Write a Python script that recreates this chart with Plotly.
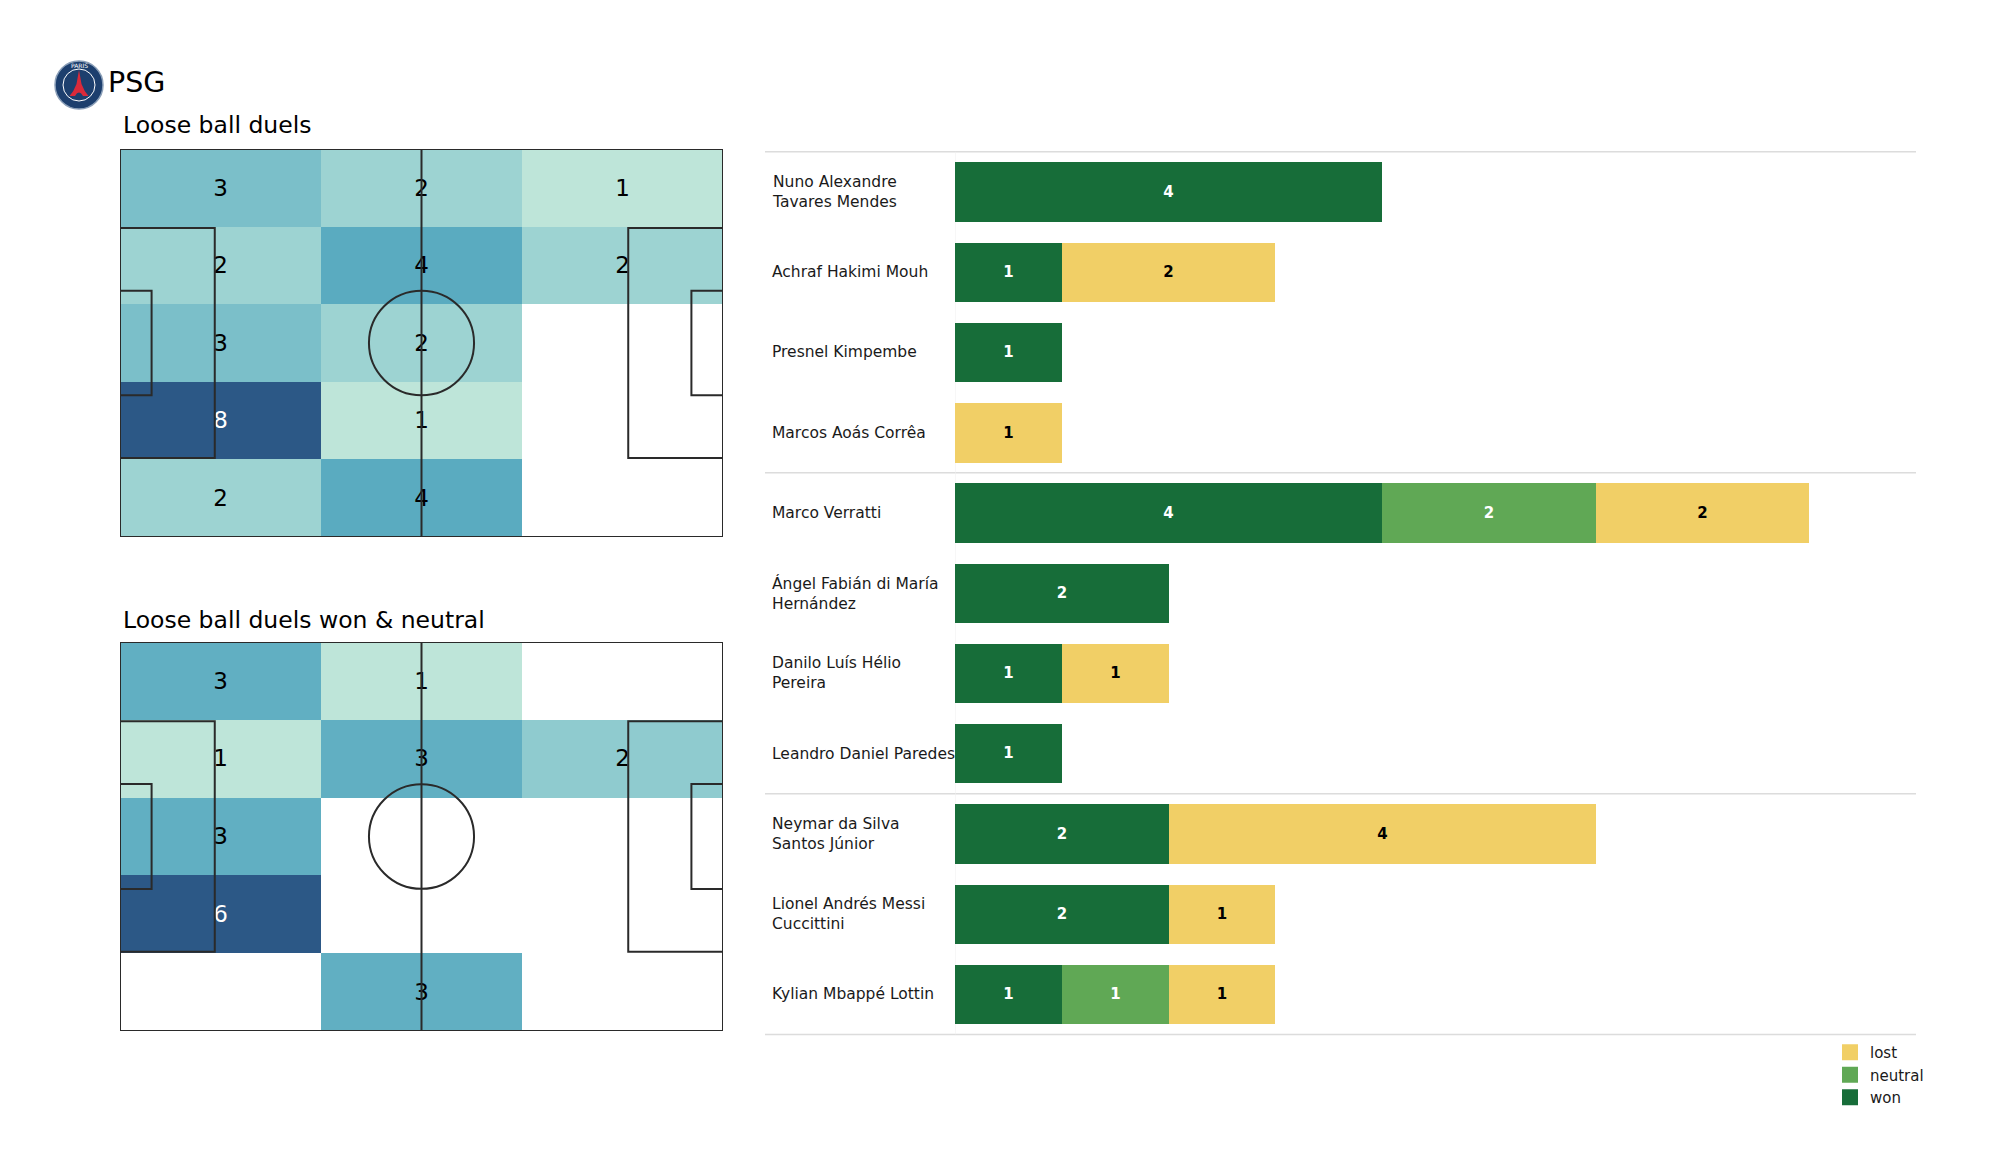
import plotly.graph_objects as go

FONT = "DejaVu Sans"
W, H = 2000, 1175
OFF = 8  # page body margin in the browser

# ---------------- data ----------------
# pitch grid (metres): 3 columns x 5 rows, bottom-to-top edges
pitch_x_edges = [0, 35, 70, 105]
pitch_y_edges = [0, 13.6, 27.2, 40.8, 54.4, 68]

# counts per zone, rows listed top -> bottom, columns left -> right
loose_all = [
    [3, 2, 1],
    [2, 4, 2],
    [3, 2, 0],
    [8, 1, 0],
    [2, 4, 0],
]
loose_won_neutral = [
    [3, 1, 0],
    [1, 3, 2],
    [3, 0, 0],
    [6, 0, 0],
    [0, 3, 0],
]

players = [
    "Nuno Alexandre<br>Tavares Mendes",
    "Achraf Hakimi Mouh",
    "Presnel Kimpembe",
    "Marcos Aoás Corrêa",
    "Marco Verratti",
    "Ángel Fabián di María<br>Hernández",
    "Danilo Luís Hélio<br>Pereira",
    "Leandro Daniel Paredes",
    "Neymar da Silva<br>Santos Júnior",
    "Lionel Andrés Messi<br>Cuccittini",
    "Kylian Mbappé Lottin",
]
group_sizes = [4, 4, 3]
won = [4, 1, 1, 0, 4, 2, 1, 1, 2, 2, 1]
neutral = [0, 0, 0, 0, 2, 0, 0, 0, 0, 0, 1]
lost = [0, 2, 0, 1, 2, 0, 1, 0, 4, 1, 1]

series = [
    ("won", won, "#176d39", "white"),
    ("neutral", neutral, "#60a855", "white"),
    ("lost", lost, "#f1cf66", "black"),
]

# ---------------- helpers ----------------
def px_x(x):
    return (x - OFF) / W


def px_y(y):
    return 1 - (y - OFF) / H


colorscale = [
    [0.0, "#bee5d9"],
    [0.15, "#9bd2d2"],
    [0.3, "#78bdc8"],
    [0.45, "#55a8bf"],
    [0.7, "#3b7fa6"],
    [1.0, "#2c5886"],
]

fig = go.Figure()


def add_pitch_heatmap(grid, xa, ya):
    rows_bt = grid[::-1]
    z = [[v if v > 0 else None for v in r] for r in rows_bt]
    vals = [v for r in grid for v in r if v > 0]
    vmin, vmax = min(vals), max(vals)
    fig.add_trace(go.Heatmap(
        z=z, x=pitch_x_edges, y=pitch_y_edges, xaxis=xa, yaxis=ya,
        colorscale=colorscale, zmin=vmin, zmax=vmax, showscale=False,
        hoverinfo="skip",
    ))
    tx, ty, tt, tc = [], [], [], []
    for ri, r in enumerate(rows_bt):
        for ci, v in enumerate(r):
            if v > 0:
                tx.append((pitch_x_edges[ci] + pitch_x_edges[ci + 1]) / 2)
                ty.append((pitch_y_edges[ri] + pitch_y_edges[ri + 1]) / 2 - 0.35)
                tt.append(str(v))
                tc.append("white" if v == vmax else "black")
    fig.add_trace(go.Scatter(
        x=tx, y=ty, text=tt, mode="text", xaxis=xa, yaxis=ya,
        textfont=dict(family=FONT, size=23, color=tc),
        hoverinfo="skip", showlegend=False,
    ))


def pitch_shapes(xr, yr):
    line = dict(color="#2a2a2a", width=2)
    out = []

    def rect(x0, y0, x1, y1):
        out.append(dict(type="rect", xref=xr, yref=yr, x0=x0, y0=y0, x1=x1, y1=y1,
                        line=line, fillcolor="rgba(0,0,0,0)", layer="above"))

    rect(0, 0, 105, 68)
    out.append(dict(type="line", xref=xr, yref=yr, x0=52.5, y0=0, x1=52.5, y1=68, line=line))
    out.append(dict(type="circle", xref=xr, yref=yr, x0=52.5 - 9.15, x1=52.5 + 9.15,
                    y0=34 - 9.15, y1=34 + 9.15, line=line))
    rect(0, 13.84, 16.5, 54.16)
    rect(0, 24.84, 5.5, 43.16)
    rect(88.5, 13.84, 105, 54.16)
    rect(99.5, 24.84, 105, 43.16)
    return out


add_pitch_heatmap(loose_all, "x", "y")
add_pitch_heatmap(loose_won_neutral, "x2", "y2")

# ---------------- bars ----------------
for name, vals, color, tcolor in series:
    fig.add_trace(go.Bar(
        name=name, orientation="h", y=players,
        x=[v if v > 0 else None for v in vals],
        text=[str(v) if v > 0 else "" for v in vals],
        textposition="inside", insidetextanchor="middle", textangle=0,
        textfont=dict(family=FONT, size=15, color=tcolor, weight="bold"),
        marker=dict(color=color, line=dict(width=0)),
        width=0.74, xaxis="x3", yaxis="y3", hoverinfo="skip",
        constraintext="none", showlegend=False,
    ))

# legend entries (lost, neutral, won from top)
for name, vals, color, tcolor in series[::-1]:
    fig.add_trace(go.Scatter(
        name=name, x=[None], y=[None], mode="markers", xaxis="x3", yaxis="y3",
        marker=dict(symbol="square", size=16, color=color),
        legendgroup=name, showlegend=True, hoverinfo="skip",
    ))

shapes = []
shapes += pitch_shapes("x", "y")
shapes += pitch_shapes("x2", "y2")

# bar panel separators
n = len(players)
bounds = [0]
for g in group_sizes:
    bounds.append(bounds[-1] + g)
for b in bounds:
    yd = 1 - b / n
    shapes.append(dict(type="line", xref="paper", yref="y3 domain",
                       x0=px_x(765), x1=px_x(1916), y0=yd, y1=yd,
                       line=dict(color="#dcdcdc", width=1.5), layer="below"))
shapes.append(dict(type="line", xref="x3", yref="y3 domain", x0=0, x1=0, y0=0, y1=1,
                   line=dict(color="#f0f0f0", width=1), layer="below"))

# logo (decorative)
cx, cy, r = 79, 85, 24
shapes.append(dict(type="circle", xref="paper", yref="paper",
                   x0=px_x(cx - r), x1=px_x(cx + r), y0=px_y(cy + r), y1=px_y(cy - r),
                   fillcolor="#1d3f6e", line=dict(color="#8b9fb8", width=1.5)))
ri = 16
shapes.append(dict(type="circle", xref="paper", yref="paper",
                   x0=px_x(cx - ri), x1=px_x(cx + ri), y0=px_y(cy + ri), y1=px_y(cy - ri),
                   fillcolor="#1d3f6e", line=dict(color="white", width=1)))


def ppath(cmds):
    s = ""
    for c in cmds:
        s += c[0]
        pts = c[1:]
        s += " ".join(f"{px_x(pts[i]):.5f},{px_y(pts[i+1]):.5f}" for i in range(0, len(pts), 2)) + " "
    return s + "Z"


tower = ppath([
    ("M", 79, 70), ("L", 76.5, 84), ("Q", 74, 91, 69.5, 96), ("L", 75, 96),
    ("Q", 79, 89, 83, 96), ("L", 88.5, 96), ("Q", 84, 91, 81.5, 84),
])
shapes.append(dict(type="path", xref="paper", yref="paper", path=tower,
                   fillcolor="#da2a3a", line=dict(width=0)))

annotations = [
    dict(text="PSG", x=px_x(106), y=px_y(83), xref="paper", yref="paper",
         xanchor="left", yanchor="middle", showarrow=False,
         font=dict(family=FONT, size=28.5, color="black")),
    dict(text="Loose ball duels", x=px_x(121), y=px_y(125), xref="paper", yref="paper",
         xanchor="left", yanchor="middle", showarrow=False,
         font=dict(family=FONT, size=23.5, color="black")),
    dict(text="Loose ball duels won &amp; neutral", x=px_x(121), y=px_y(620), xref="paper", yref="paper",
         xanchor="left", yanchor="middle", showarrow=False,
         font=dict(family=FONT, size=23.5, color="black")),
    dict(text="PARIS", x=px_x(cx), y=px_y(cy - 19), xref="paper", yref="paper",
         xanchor="center", yanchor="middle", showarrow=False,
         font=dict(family=FONT, size=6, color="white")),
]
for p in players:
    annotations.append(dict(text=p, x=px_x(770), y=p, xref="paper", yref="y3",
                            xanchor="left", yanchor="middle", align="left", showarrow=False,
                            font=dict(family=FONT, size=15.5, color="#1a1a1a")))

hidden = dict(visible=False, showgrid=False, zeroline=False, fixedrange=True)

fig.update_layout(
    width=W, height=H, margin=dict(l=0, r=0, t=0, b=0),
    paper_bgcolor="white", plot_bgcolor="white",
    barmode="stack", bargap=0,
    xaxis=dict(domain=[px_x(120), px_x(723)], range=[0, 105], anchor="y", **hidden),
    yaxis=dict(domain=[px_y(537), px_y(149)], range=[0, 68], anchor="x", **hidden),
    xaxis2=dict(domain=[px_x(120), px_x(723)], range=[0, 105], anchor="y2", **hidden),
    yaxis2=dict(domain=[px_y(1031), px_y(642)], range=[0, 68], anchor="x2", **hidden),
    xaxis3=dict(domain=[px_x(955), px_x(1916)], range=[0, 9], anchor="y3", **hidden),
    yaxis3=dict(domain=[px_y(1034.4), px_y(151.8)], type="category",
                categoryorder="array", categoryarray=players,
                range=[n - 0.5, -0.5], anchor="x3", **hidden),
    shapes=shapes, annotations=annotations,
    showlegend=True,
    legend=dict(x=px_x(1830), y=px_y(1036), xanchor="left", yanchor="top",
                traceorder="normal", bgcolor="rgba(0,0,0,0)", itemsizing="trace",
                font=dict(family=FONT, size=15, color="#1a1a1a"), tracegroupgap=3),
    font=dict(family=FONT),
)

fig.write_html("out.html")
